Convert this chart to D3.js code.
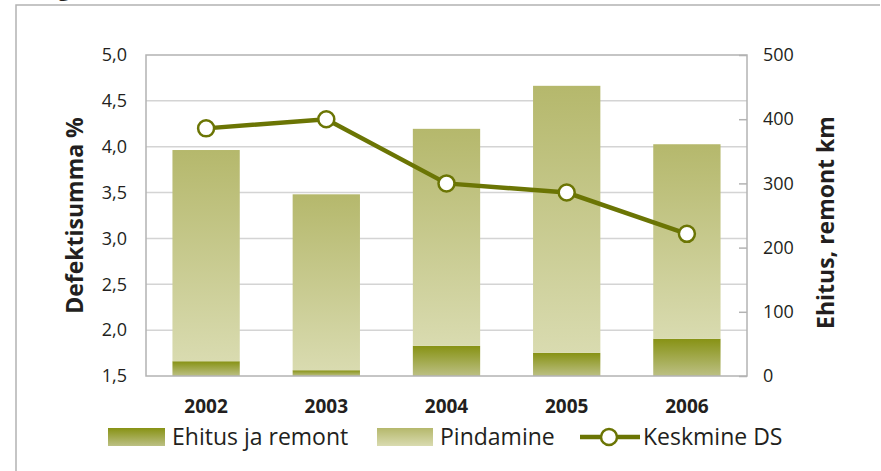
<!DOCTYPE html>
<html lang="et">
<head>
<meta charset="UTF-8"/>
<title>Defektisumma</title>
<script src="https://d3js.org/d3.v7.min.js"></script>
<style>
    body { margin: 0; background: #fff; }
    text { font-family: "Open Sans", "Noto Sans", sans-serif; fill: #231f20; }
</style>
</head>
<body>
<script>
    const years = ["2002", "2003", "2004", "2005", "2006"];
    const ehitus = [23, 9, 47, 36, 58];          // Ehitus ja remont, km
    const pindamine = [329, 274, 338, 416, 303]; // Pindamine, km
    const keskmineDS = [4.20, 4.30, 3.60, 3.50, 3.05]; // Keskmine DS, %
    const leftTicks = [1.5, 2.0, 2.5, 3.0, 3.5, 4.0, 4.5, 5.0];
    const rightTicks = [0, 100, 200, 300, 400, 500];

    const width = 881, height = 471;
    const plot = {left: 146, top: 55, right: 747, bottom: 376};
    const lineColor = "#6b7504";

    const svg = d3.select("body").append("svg")
        .attr("width", width)
        .attr("height", height);

    const defs = svg.append("defs");
    function grad(id, c1, c2) {
        const g = defs.append("linearGradient").attr("id", id)
            .attr("x1", 0).attr("y1", 0).attr("x2", 0).attr("y2", 1);
        g.append("stop").attr("offset", "0%").attr("stop-color", c1);
        g.append("stop").attr("offset", "100%").attr("stop-color", c2);
    }
    grad("gradEhitus", "#879214", "#bcc084");
    grad("gradPind", "#b5b86c", "#d9dbb0");

    // outer frame
    svg.append("path")
        .attr("d", `M16,${height}V5H880`)
        .attr("fill", "none")
        .attr("stroke", "#b3b3b3")
        .attr("stroke-width", 1.5);
    // clipped title glyph at top
    svg.append("text")
        .attr("x", 58).attr("y", -4)
        .style("font-size", "22px").style("font-weight", "bold")
        .text("g");

    const x = d3.scaleBand().domain(years).range([plot.left, plot.right]).paddingInner(0.44).paddingOuter(0.22);
    const yL = d3.scaleLinear().domain([1.5, 5]).range([plot.bottom, plot.top]);
    const yR = d3.scaleLinear().domain([0, 500]).range([plot.bottom, plot.top]);

    // gridlines
    svg.append("g").selectAll("line")
        .data(leftTicks.slice(1, -1))
        .join("line")
        .attr("x1", plot.left).attr("x2", plot.right)
        .attr("y1", d => yL(d)).attr("y2", d => yL(d))
        .attr("stroke", "#d4d4d4").attr("stroke-width", 1.5);

    // bars
    const stackData = years.map((y, i) => ({year: y, ehitus: ehitus[i], pindamine: pindamine[i]}));
    const series = d3.stack().keys(["ehitus", "pindamine"])(stackData);
    const fills = {ehitus: "url(#gradEhitus)", pindamine: "url(#gradPind)"};
    svg.append("g").selectAll("g")
        .data(series)
        .join("g")
        .attr("fill", s => fills[s.key])
        .selectAll("rect")
        .data(s => s)
        .join("rect")
        .attr("x", d => x(d.data.year))
        .attr("width", x.bandwidth())
        .attr("y", d => yR(d[1]))
        .attr("height", d => yR(d[0]) - yR(d[1]));

    // plot frame
    svg.append("rect")
        .attr("x", plot.left).attr("y", plot.top)
        .attr("width", plot.right - plot.left).attr("height", plot.bottom - plot.top)
        .attr("fill", "none").attr("stroke", "#b3b3b3").attr("stroke-width", 1.5);

    // left axis
    const axL = svg.append("g")
        .attr("transform", `translate(${plot.left - 19},0)`)
        .call(d3.axisLeft(yL).tickValues(leftTicks).tickSize(0).tickFormat(d => d3.format(".1f")(d).replace(".", ",")));
    axL.select(".domain").remove();
    axL.selectAll("text").attr("x", 0).style("font-size", "18px").style("fill", "#231f20").style("font-family", null);

    // right axis
    const axR = svg.append("g")
        .attr("transform", `translate(${plot.right},0)`)
        .call(d3.axisLeft(yR).tickValues(rightTicks).tickSize(8).tickFormat(d3.format("d")));
    axR.select(".domain").remove();
    axR.selectAll("line").attr("stroke", "#b3b3b3").attr("stroke-width", 1.5);
    axR.selectAll("text").attr("x", 16).attr("text-anchor", "start")
        .style("font-size", "18px").style("fill", "#231f20").style("font-family", null);

    // x labels
    const axB = svg.append("g")
        .attr("transform", `translate(0,${plot.bottom})`)
        .call(d3.axisBottom(x).tickSize(0));
    axB.select(".domain").remove();
    axB.selectAll("text").attr("y", 37).attr("dy", null)
        .style("font-size", "19px").style("font-weight", "bold")
        .style("fill", "#231f20").style("font-family", null);

    // axis titles
    svg.append("text")
        .attr("transform", `translate(83,${(plot.top + plot.bottom) / 2}) rotate(-90)`)
        .attr("text-anchor", "middle")
        .style("font-size", "23px").style("font-weight", "bold")
        .text("Defektisumma %");
    svg.append("text")
        .attr("transform", `translate(834,${(plot.top + plot.bottom) / 2 + 7}) rotate(-90)`)
        .attr("text-anchor", "middle")
        .style("font-size", "23px").style("font-weight", "bold")
        .text("Ehitus, remont km");

    // line
    const cx = i => x(years[i]) + x.bandwidth() / 2;
    const line = d3.line().x((d, i) => cx(i)).y(d => yL(d));
    svg.append("path")
        .attr("d", line(keskmineDS))
        .attr("fill", "none").attr("stroke", lineColor).attr("stroke-width", 4.5);
    svg.append("g").selectAll("circle")
        .data(keskmineDS)
        .join("circle")
        .attr("cx", (d, i) => cx(i)).attr("cy", d => yL(d))
        .attr("r", 8)
        .attr("fill", "#fff").attr("stroke", lineColor).attr("stroke-width", 2.5);

    // legend
    const leg = svg.append("g");
    leg.append("rect").attr("x", 108).attr("y", 428).attr("width", 57).attr("height", 18).attr("fill", "url(#gradEhitus)");
    leg.append("text").attr("x", 172).attr("y", 445).style("font-size", "23px").text("Ehitus ja remont");
    leg.append("rect").attr("x", 377).attr("y", 428).attr("width", 56).attr("height", 18).attr("fill", "url(#gradPind)");
    leg.append("text").attr("x", 440).attr("y", 445).style("font-size", "23px").text("Pindamine");
    leg.append("line").attr("x1", 580).attr("x2", 640).attr("y1", 437).attr("y2", 437)
        .attr("stroke", lineColor).attr("stroke-width", 4.5);
    leg.append("circle").attr("cx", 609).attr("cy", 437).attr("r", 8)
        .attr("fill", "#fff").attr("stroke", lineColor).attr("stroke-width", 2.5);
    leg.append("text").attr("x", 643).attr("y", 445).style("font-size", "23px").text("Keskmine DS");
</script>
</body>
</html>
